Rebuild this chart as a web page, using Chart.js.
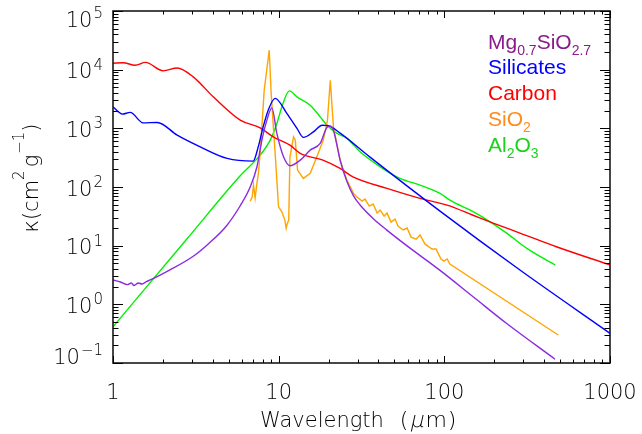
<!DOCTYPE html>
<html>
<head>
<meta charset="utf-8">
<script src="https://cdn.jsdelivr.net/npm/chart.js@4.4.1/dist/chart.umd.min.js"></script>
<style>
  html, body { margin: 0; padding: 0; background: #fff; }
  #wrap { width: 642px; height: 434px; }
</style>
</head>
<body>
<div id="wrap"><canvas id="kappaChart" width="642" height="434"></canvas></div>
<script>
// wavelength (micron) and opacity kappa (cm^2 g^-1)
const mgWave  = [1.0, 1.11, 1.22, 1.29, 1.34, 1.42, 1.50, 1.59, 1.68, 2.22, 3.05, 3.76, 4.85, 5.86, 6.73, 7.39, 7.92, 8.49, 9.10, 9.75, 10.7, 11.7, 13.5, 15.5, 17.8, 19.7, 20.5, 21.4, 23.5, 25.8, 28.3, 31.0, 37.3, 45.0, 59.3, 94.2, 150, 238, 466];
const mgKappa = [2.6, 2.4, 2.17, 2.31, 2.09, 2.31, 2.22, 2.44, 2.6, 3.9, 6.6, 10.7, 21.9, 47.9, 100, 219, 630, 1380, 2230, 818, 327, 230, 287, 425, 553, 1060, 1090, 931, 286, 125, 70.8, 49.4, 28.8, 18.4, 10.0, 3.79, 1.33, 0.471, 0.116];

const silWave  = [1.0, 1.14, 1.27, 1.52, 1.85, 2.44, 3.36, 4.89, 7.02, 7.52, 8.06, 8.65, 9.52, 11.2, 12.9, 14.1, 16.2, 18.3, 19.9, 23.5, 35.6, 94.2, 286, 1000];
const silKappa = [2320, 1750, 1870, 1240, 1260, 766, 484, 307, 276, 478, 1060, 2040, 3240, 1800, 995, 700, 871, 1130, 1110, 828, 323, 38.8, 3.84, 0.32];

const carbWave  = [1.0, 1.15, 1.36, 1.57, 2.01, 2.44, 3.05, 4.03, 5.86, 7.73, 9.27, 11.7, 13.5, 18.5, 23.5, 28.1, 45.1, 71.3, 104, 149, 197, 286, 479, 1000];
const carbKappa = [12900, 13100, 11900, 13300, 9550, 10700, 7540, 3440, 1380, 1020, 716, 517, 373, 287, 207, 149, 94.6, 64, 49, 33, 24.3, 16.4, 9.5, 4.7];

const sio2Wave  = [6.73, 6.92, 7.05, 7.21, 7.39, 7.55, 7.73, 7.92, 8.18, 8.77, 9.01, 9.23, 9.52, 9.98, 10.45, 10.9, 11.1, 11.25, 11.5, 11.7, 12.3, 12.6, 13.0, 14.1, 15.5, 17.0, 18.6, 19.7, 20.5, 21.4, 23.5, 25.8, 28.3, 29.6, 31.9, 33.2, 35.2, 37.2, 39.3, 41.0, 43.3, 45.1, 47.7, 50.4, 52.5, 56.4, 59.6, 63, 67.6, 71.3, 76.5, 84.3, 89.1, 95.5, 99.6, 104, 108, 487];
const sio2Kappa = [57.5, 67.3, 108, 64.7, 115, 173, 378, 1060, 4480, 21500, 3980, 1380, 378, 46, 37.8, 27.3, 19.7, 23.3, 27.3, 327, 716, 630, 194, 140, 171, 327, 630, 1380, 6620, 1060, 287, 131, 77.8, 68, 57.5, 62.2, 47.3, 51.2, 35.9, 40.4, 31.9, 35.9, 25.2, 28.4, 21.6, 18.5, 20, 14.0, 12.9, 15.2, 10.6, 8.75, 8.75, 5.92, 5.47, 5.92, 4.86, 0.30];

const alWave  = [1.0, 2.80, 5.86, 7.73, 8.89, 9.75, 10.45, 11.6, 12.9, 15.5, 17.8, 19.6, 22.5, 25.9, 31.0, 41, 54, 71.3, 94.2, 108, 149, 189, 239, 315, 466];
const alKappa = [0.415, 13.1, 155, 349, 630, 1210, 2320, 4350, 3440, 2480, 1570, 1130, 818, 673, 398, 221, 140, 108, 77.8, 59.8, 37.9, 25.5, 16.2, 9.0, 4.68];

const seriesLabels = ['Mg_{0.7}SiO_{2.7}', 'Silicates', 'Carbon', 'SiO_{2}', 'Al_{2}O_{3}'];
const lineColors   = ['#8a2be2', '#0000ff', '#ff0000', '#ffa500', '#00f000'];
const textColors   = ['#8b1a8b', '#0000ff', '#ff0000', '#ff8c1a', '#19d219'];
const smoothSeries = [true, true, true, false, true];

const xTickValues = [1, 10, 100, 1000];
const xTickLabels = ['1', '10', '100', '1000'];
const yTickValues = [0.1, 1, 10, 100, 1000, 10000, 100000];
const yTickExps   = ['\u22121', '0', '1', '2', '3', '4', '5'];
const minorSteps  = [1, 2, 3, 4, 5, 6, 7, 8, 9];

const TICK_FONT = "200 21px 'DejaVu Sans'";
const EXP_FONT  = "200 15px 'DejaVu Sans'";
const UNIT_FONT = "200 22px 'DejaVu Sans'";

function toPoints(xs, ys) {
    return xs.map((v, i) => ({ x: v, y: ys[i] }));
}

// split "SiO_{2}" / "cm^{2}" into plain, sub and sup runs
function parseRich(text) {
    const parts = [];
    const re = /([_^])\{([^}]*)\}|([^_^]+)/g;
    let m;
    while ((m = re.exec(text)) !== null) {
        if (m[3]) parts.push({ text: m[3], kind: 'n' });
        else parts.push({ text: m[2], kind: m[1] === '_' ? 'sub' : 'sup' });
    }
    return parts;
}

function drawRich(ctx, parts, x, y, align) {
    let total = 0;
    parts.forEach(p => {
        ctx.font = p.font;
        p.w = ctx.measureText(p.text).width + (p.gap || 0);
        total += p.w;
    });
    let cx = align === 'center' ? x - total / 2 : (align === 'right' ? x - total : x);
    ctx.textAlign = 'left';
    parts.forEach(p => {
        ctx.font = p.font;
        if (p.skew) {
            ctx.save();
            ctx.translate(cx, y + (p.dy || 0));
            ctx.transform(1, 0, -p.skew, 1, 0, 0);
            ctx.fillText(p.text, 0, 0);
            ctx.restore();
        } else {
            ctx.fillText(p.text, cx, y + (p.dy || 0));
        }
        cx += p.w;
    });
}

const frameAndText = {
    id: 'frameAndText',
    afterDatasetsDraw(chart) {
        const { ctx, chartArea: a, scales: { x, y } } = chart;
        ctx.save();

        // box
        ctx.strokeStyle = '#1a1a1a';
        ctx.lineWidth = 1.6;
        ctx.strokeRect(a.left, a.top, a.right - a.left, a.bottom - a.top);

        // inward ticks on all four sides
        ctx.lineWidth = 1;
        ctx.strokeStyle = '#000';
        ctx.beginPath();
        xTickValues.forEach(d => minorSteps.forEach(s => {
            const v = d * s;
            if (v > x.max * 1.0001) return;
            const px = Math.round(x.getPixelForValue(v)) + 0.5;
            const len = s === 1 ? 7 : 3.5;
            ctx.moveTo(px, a.bottom); ctx.lineTo(px, a.bottom - len);
            ctx.moveTo(px, a.top); ctx.lineTo(px, a.top + len);
        }));
        yTickValues.forEach(d => minorSteps.forEach(s => {
            const v = d * s;
            if (v > y.max * 1.0001) return;
            const py = Math.round(y.getPixelForValue(v)) + 0.5;
            const len = s === 1 ? 10 : 5.5;
            ctx.moveTo(a.left, py); ctx.lineTo(a.left + len, py);
            ctx.moveTo(a.right, py); ctx.lineTo(a.right - len, py);
        }));
        ctx.stroke();

        ctx.fillStyle = '#000';
        ctx.textBaseline = 'alphabetic';

        // x tick labels
        ctx.font = TICK_FONT;
        ctx.textAlign = 'center';
        xTickValues.forEach((v, i) => {
            ctx.fillText(xTickLabels[i], x.getPixelForValue(v), 399);
        });

        // y tick labels as 10^n
        yTickValues.forEach((v, i) => {
            let mid = y.getPixelForValue(v) + 1;
            mid = Math.min(Math.max(mid, a.top + 8), a.bottom - 7);
            const base = mid + 7.5;
            drawRich(ctx, [
                { text: '10', font: TICK_FONT, gap: 1 },
                { text: yTickExps[i], font: EXP_FONT, dy: -8.5 }
            ], a.left - 10, base, 'right');
        });

        // x axis title
        drawRich(ctx, [
            { text: 'Wavelength', font: TICK_FONT, gap: 16 },
            { text: '(', font: UNIT_FONT, gap: 1 },
            { text: '\u03bc', font: UNIT_FONT, skew: 0.22, gap: 2 },
            { text: 'm', font: UNIT_FONT, gap: 1 },
            { text: ')', font: UNIT_FONT }
        ], 260, 427, 'left');

        // y axis title, rotated
        ctx.save();
        ctx.translate(38, 178);
        ctx.rotate(-Math.PI / 2);
        drawRich(ctx, [
            { text: '\u03ba(cm', font: TICK_FONT },
            { text: '2', font: EXP_FONT, dy: -14, gap: 3 },
            { text: 'g', font: TICK_FONT, gap: 1 },
            { text: '\u22121', font: EXP_FONT, dy: -14 },
            { text: ')', font: TICK_FONT }
        ], 0, 0, 'center');
        ctx.restore();

        // legend text
        seriesLabels.forEach((label, i) => {
            ctx.fillStyle = textColors[i];
            const parts = parseRich(label).map(p => ({
                text: p.text,
                font: p.kind === 'n' ? "21px 'Liberation Sans'" : "14px 'Liberation Sans'",
                dy: p.kind === 'sub' ? 6.5 : (p.kind === 'sup' ? -8 : 0)
            }));
            drawRich(ctx, parts, 488, 48.5 + i * 25.8, 'left');
        });

        ctx.restore();
    }
};

const seriesData = [
    toPoints(mgWave, mgKappa),
    toPoints(silWave, silKappa),
    toPoints(carbWave, carbKappa),
    toPoints(sio2Wave, sio2Kappa),
    toPoints(alWave, alKappa)
];

new Chart(document.getElementById('kappaChart').getContext('2d'), {
    type: 'scatter',
    data: {
        datasets: seriesData.map((pts, i) => ({
            label: seriesLabels[i],
            data: pts,
            showLine: true,
            borderColor: lineColors[i],
            backgroundColor: lineColors[i],
            borderWidth: 1.4,
            pointRadius: 0,
            cubicInterpolationMode: smoothSeries[i] ? 'monotone' : 'default',
            tension: 0,
            fill: false
        }))
    },
    options: {
        responsive: false,
        animation: false,
        layout: { padding: { left: 113, right: 32, top: 11, bottom: 71 } },
        plugins: {
            legend: { display: false },
            tooltip: { enabled: false }
        },
        scales: {
            x: { type: 'logarithmic', min: 1, max: 1000, display: false },
            y: { type: 'logarithmic', min: 0.1, max: 100000, display: false }
        }
    },
    plugins: [frameAndText]
});
</script>
</body>
</html>
